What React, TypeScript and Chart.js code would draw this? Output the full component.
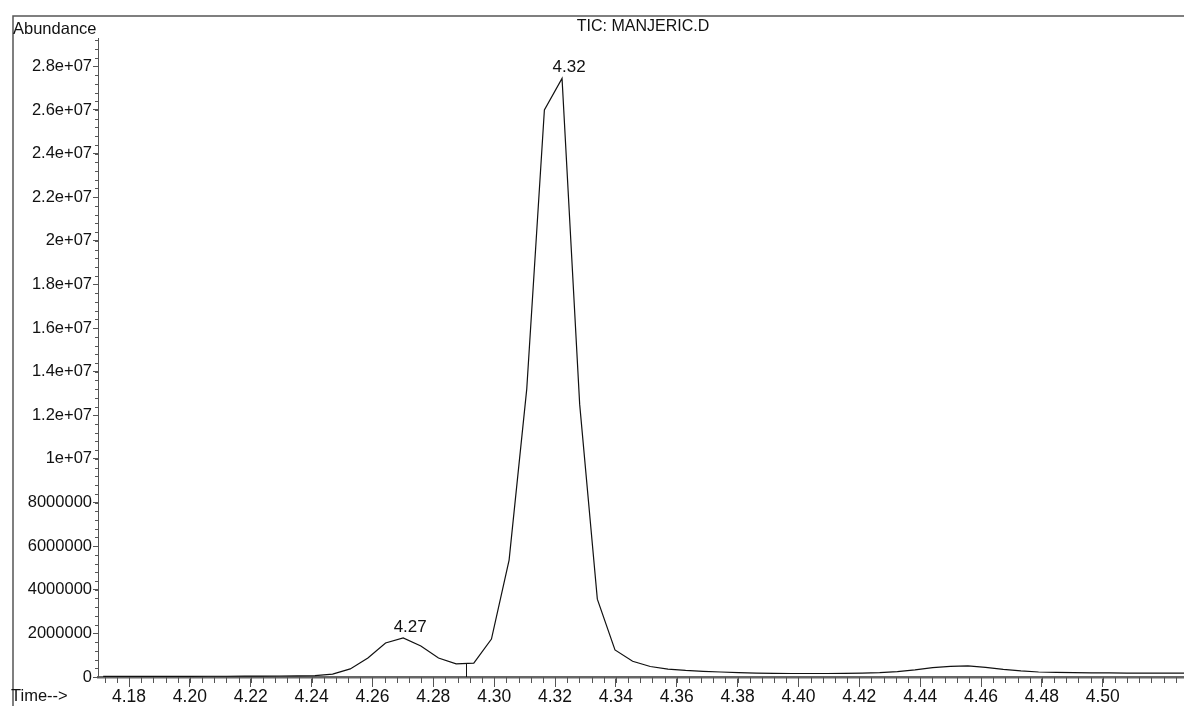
import React, { useEffect, useRef } from "react";
import { Chart, registerables } from "chart.js";

Chart.register(...registerables);

// Retention times (min)
const times = [
  4.1715, 4.1773, 4.1831, 4.1889, 4.1947, 4.2005, 4.2063, 4.2121, 4.2179, 4.2237,
  4.2295, 4.2353, 4.2411, 4.2469, 4.2527, 4.2585, 4.2643, 4.2701, 4.2759, 4.2817,
  4.2875, 4.2933, 4.2991, 4.3049, 4.3107, 4.3165, 4.3223, 4.3281, 4.3339, 4.3397,
  4.3455, 4.3513, 4.3571, 4.3629, 4.3687, 4.3745, 4.3803, 4.3861, 4.3919, 4.3977,
  4.4035, 4.4093, 4.4151, 4.4209, 4.4267, 4.4325, 4.4383, 4.4441, 4.4499, 4.4557,
  4.4615, 4.4673, 4.4731, 4.4789, 4.4847, 4.4905, 4.4963, 4.5021, 4.5079, 4.5137,
  4.5195, 4.5253, 4.5311,
];

// TIC abundance
const abundance = [
  30000, 30000, 30000, 30000, 30000, 30000, 35000, 35000, 40000, 40000,
  45000, 50000, 60000, 130000, 370000, 870000, 1560000, 1790000, 1420000, 870000,
  600000, 640000, 1740000, 5360000, 13200000, 26000000, 27450000, 12500000, 3570000, 1240000,
  720000, 480000, 360000, 300000, 260000, 230000, 200000, 180000, 170000, 160000,
  160000, 160000, 170000, 180000, 200000, 250000, 330000, 430000, 490000, 510000,
  440000, 350000, 280000, 230000, 210000, 200000, 190000, 185000, 180000, 180000,
  180000, 180000, 180000,
];

const xTickValues = [4.18, 4.2, 4.22, 4.24, 4.26, 4.28, 4.3, 4.32, 4.34, 4.36, 4.38, 4.4, 4.42, 4.44, 4.46, 4.48, 4.5];
const xTickLabels = ["4.18", "4.20", "4.22", "4.24", "4.26", "4.28", "4.30", "4.32", "4.34", "4.36", "4.38", "4.40", "4.42", "4.44", "4.46", "4.48", "4.50"];

const yTickValues = [0, 2e6, 4e6, 6e6, 8e6, 1e7, 1.2e7, 1.4e7, 1.6e7, 1.8e7, 2e7, 2.2e7, 2.4e7, 2.6e7, 2.8e7];
const yTickLabels = ["0", "2000000", "4000000", "6000000", "8000000", "1e+07", "1.2e+07", "1.4e+07", "1.6e+07", "1.8e+07", "2e+07", "2.2e+07", "2.4e+07", "2.6e+07", "2.8e+07"];

const peakTimes = [4.2701, 4.3223];
const peakLabels = ["4.27", "4.32"];

const markerTimes = [4.2907];
const markerValues = [620000];

const titleText = "TIC: MANJERIC.D";
const yAxisText = "Abundance";
const xAxisText = "Time-->";

const FONT = "'Liberation Sans', Arial, sans-serif";

const decorPlugin = {
  id: "decor",
  afterDraw(chart: any) {
    const ctx = chart.ctx;
    const xs = chart.scales.x;
    const ys = chart.scales.y;
    const area = chart.chartArea;
    ctx.save();

    // frame
    ctx.strokeStyle = "#555";
    ctx.lineWidth = 1.5;
    ctx.beginPath();
    ctx.moveTo(13, 706);
    ctx.lineTo(13, 16);
    ctx.lineTo(1184, 16);
    ctx.stroke();

    // minor x ticks
    ctx.strokeStyle = "#555";
    ctx.lineWidth = 1;
    ctx.beginPath();
    for (let k = 0; k < 200; k++) {
      const v = 4.168 + k * 0.004;
      if (v > xs.max) break;
      if (v < xs.min) continue;
      const px = Math.round(xs.getPixelForValue(v)) + 0.5;
      ctx.moveTo(px, area.bottom);
      ctx.lineTo(px, area.bottom + 6);
    }
    ctx.stroke();

    // minor y ticks
    ctx.beginPath();
    for (let k = 0; k < 100; k++) {
      const v = k * 4e5;
      if (v > ys.max) break;
      const py = Math.round(ys.getPixelForValue(v)) + 0.5;
      ctx.moveTo(area.left, py);
      ctx.lineTo(area.left - 3, py);
    }
    ctx.stroke();

    // integration markers
    ctx.strokeStyle = "#111";
    ctx.beginPath();
    markerTimes.forEach((t, i) => {
      const px = Math.round(xs.getPixelForValue(t)) + 0.5;
      ctx.moveTo(px, ys.getPixelForValue(markerValues[i]));
      ctx.lineTo(px, ys.getPixelForValue(0));
    });
    ctx.stroke();

    // texts
    ctx.fillStyle = "#111";
    ctx.textBaseline = "middle";
    ctx.font = `16.5px ${FONT}`;
    ctx.textAlign = "left";
    ctx.fillText(yAxisText, 13, 29);
    ctx.fillText(xAxisText, 11, 696);
    ctx.font = `16px ${FONT}`;
    ctx.textAlign = "center";
    ctx.fillText(titleText, 643, 27);

    // peak labels
    const meta = chart.getDatasetMeta(0);
    ctx.font = `17px ${FONT}`;
    peakTimes.forEach((t, i) => {
      const idx = times.indexOf(t);
      const pt = meta.data[idx];
      if (!pt) return;
      ctx.fillText(peakLabels[i], pt.x + 7, pt.y - 11);
    });

    ctx.restore();
  },
};

export default function App() {
  const canvasRef = useRef<HTMLCanvasElement | null>(null);

  useEffect(() => {
    const canvas = canvasRef.current;
    if (!canvas) return;
    const chart = new Chart(canvas, {
      type: "line",
      data: {
        datasets: [
          {
            data: times.map((t, i) => ({ x: t, y: abundance[i] })),
            borderColor: "#111",
            borderWidth: 1.2,
            pointRadius: 0,
            tension: 0,
            fill: false,
          },
        ],
      },
      options: {
        animation: false,
        responsive: false,
        maintainAspectRatio: false,
        layout: { padding: { left: 13, top: 38, right: 0, bottom: 0 } },
        plugins: {
          legend: { display: false },
          tooltip: { enabled: false },
          title: { display: false },
        },
        scales: {
          x: {
            type: "linear",
            min: 4.1698,
            max: 4.5267,
            afterBuildTicks: (scale: any) => {
              scale.ticks = xTickValues.map((v) => ({ value: v }));
            },
            afterFit: (scale: any) => {
              scale.height = 29;
            },
            ticks: {
              autoSkip: false,
              maxRotation: 0,
              padding: 0,
              color: "#111",
              font: { family: FONT, size: 17.5 },
              callback: (_v: any, i: number) => xTickLabels[i],
            },
            grid: {
              drawOnChartArea: false,
              drawTicks: true,
              tickLength: 10,
              tickColor: "#555",
              tickWidth: 1,
            },
            border: { display: true, color: "#666", width: 2.5 },
          },
          y: {
            type: "linear",
            min: 0,
            max: 2.93e7,
            afterBuildTicks: (scale: any) => {
              scale.ticks = yTickValues.map((v) => ({ value: v }));
            },
            afterFit: (scale: any) => {
              scale.width = 85;
            },
            ticks: {
              autoSkip: false,
              padding: 1,
              color: "#111",
              font: { family: FONT, size: 16.5 },
              callback: (_v: any, i: number) => yTickLabels[i],
            },
            grid: {
              drawOnChartArea: false,
              drawTicks: true,
              tickLength: 5,
              tickColor: "#555",
              tickWidth: 1,
            },
            border: { display: true, color: "#555", width: 1 },
          },
        },
      },
      plugins: [decorPlugin],
    });
    return () => chart.destroy();
  }, []);

  return (
    <div style={{ position: "absolute", left: 0, top: 0, width: 1184, height: 706, background: "#fff" }}>
      <canvas ref={canvasRef} width={1184} height={706} style={{ display: "block", width: 1184, height: 706 }} />
    </div>
  );
}
